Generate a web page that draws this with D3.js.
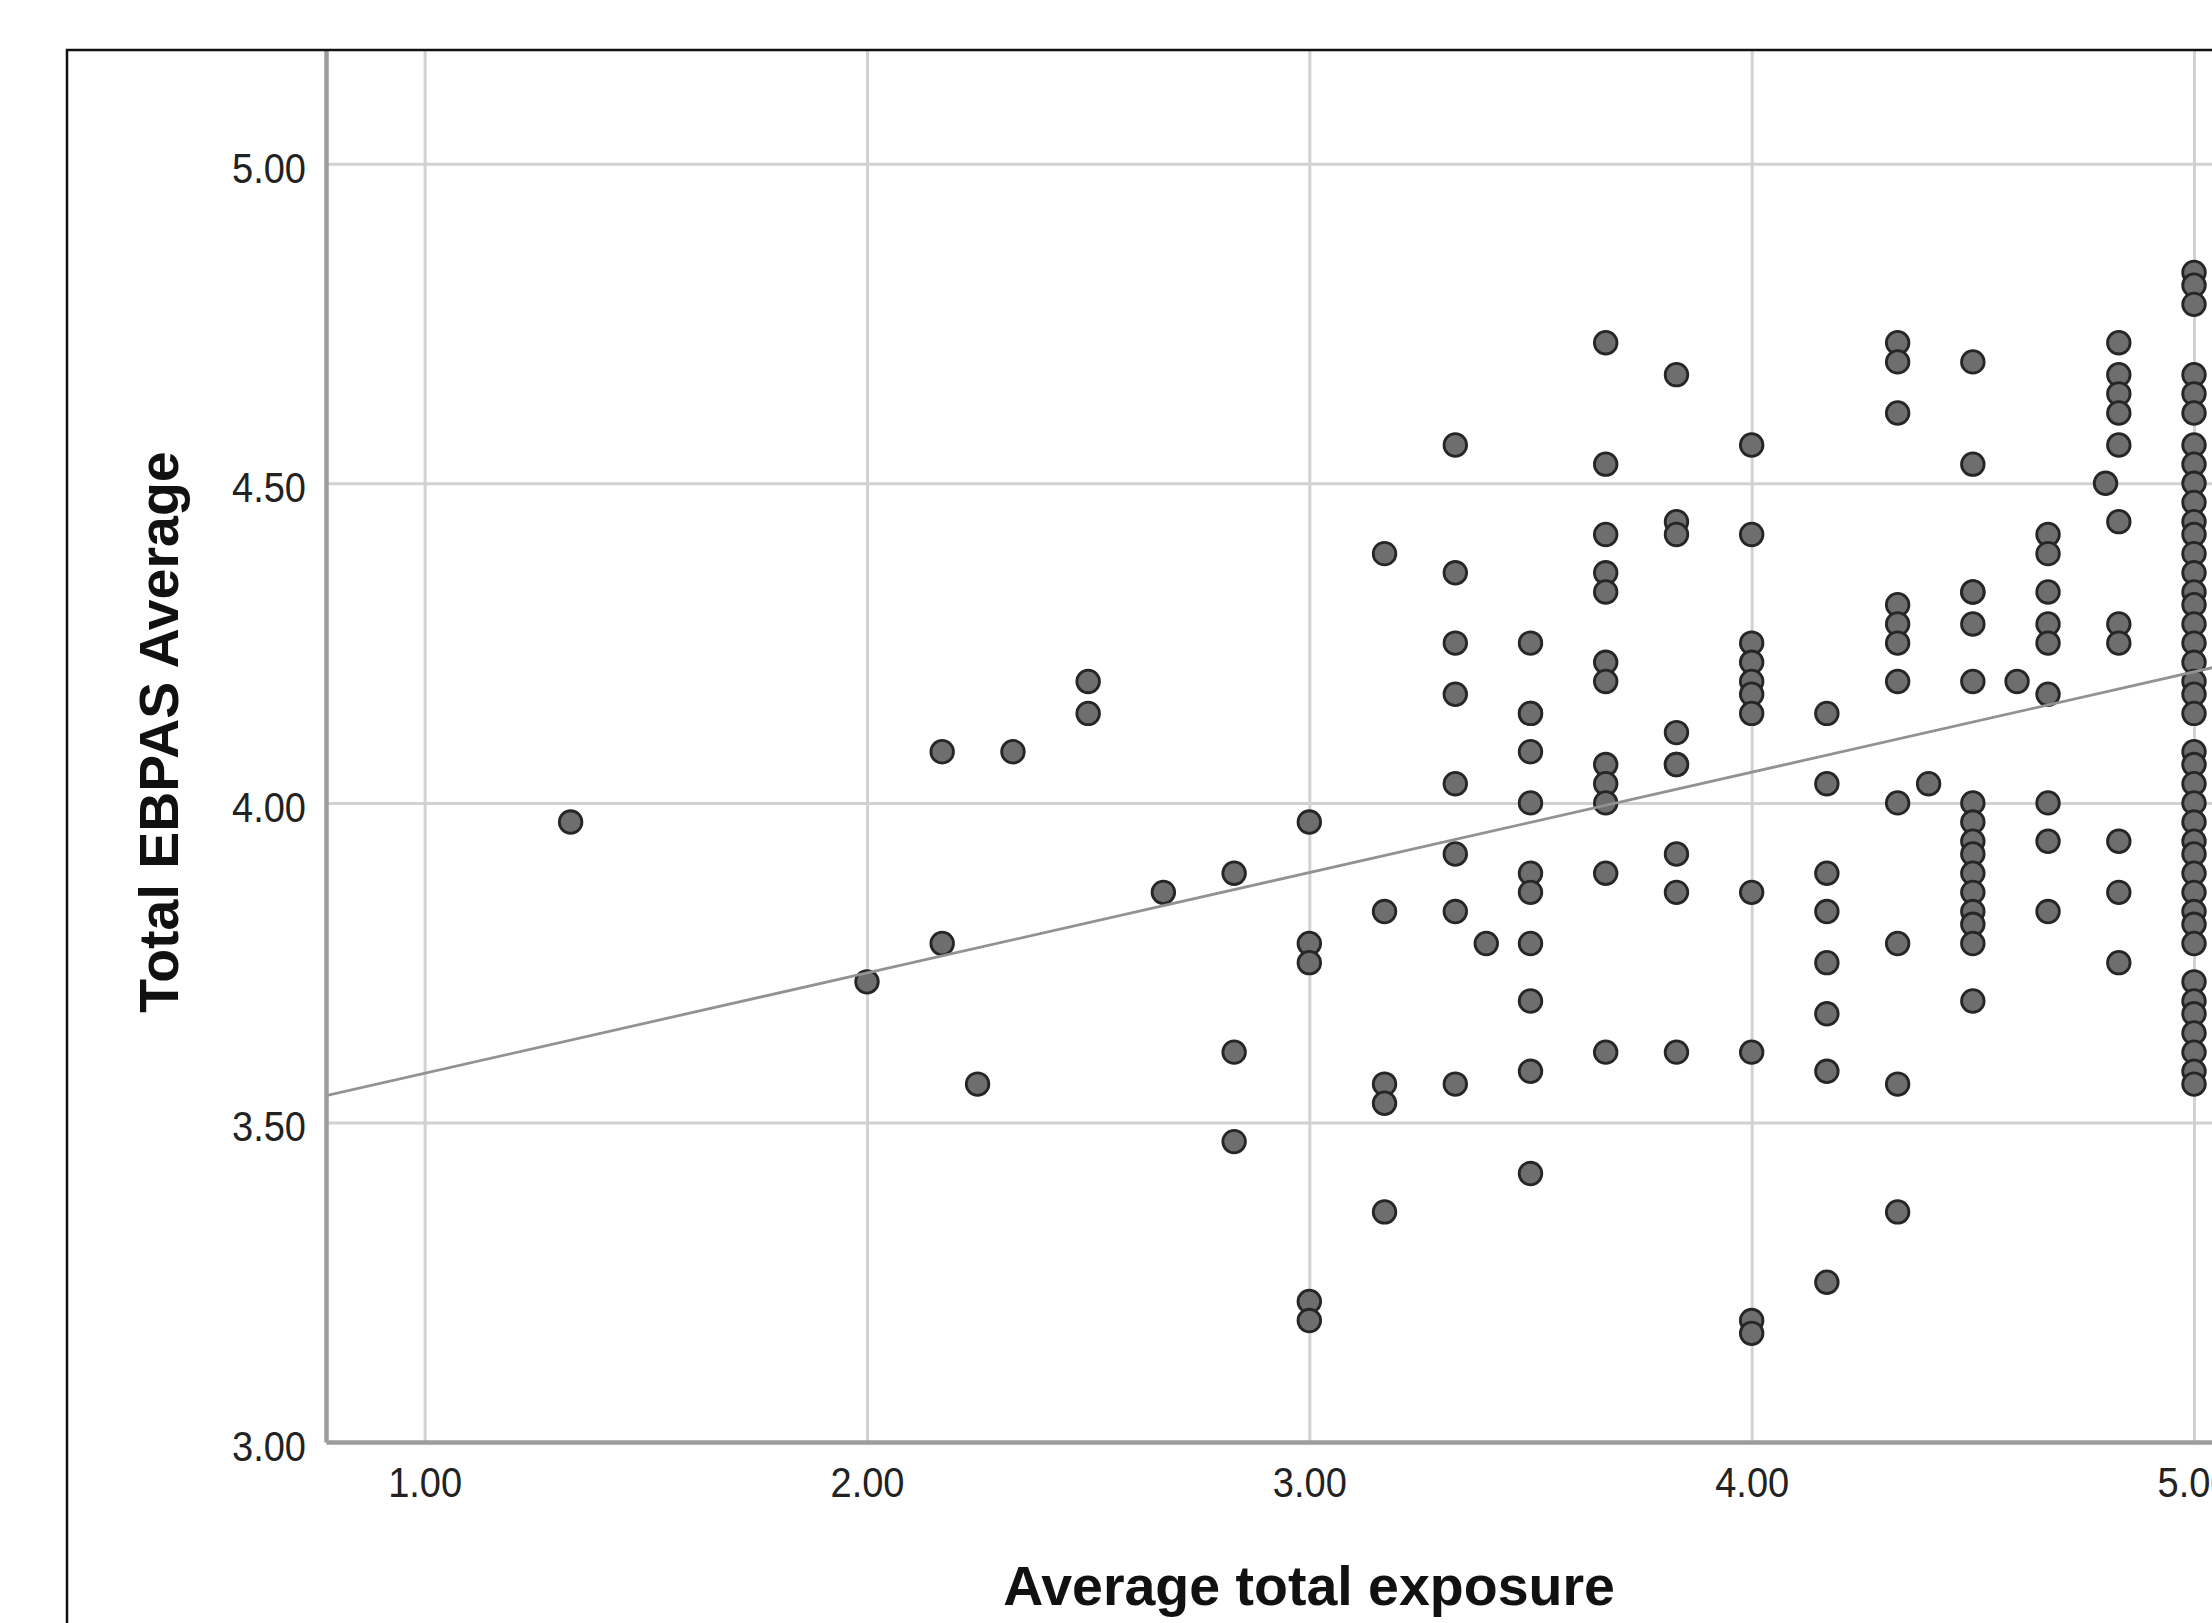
<!DOCTYPE html>
<html>
<head>
<meta charset="utf-8">
<script src="https://cdn.jsdelivr.net/npm/d3@7"></script>
<style>
  body { margin: 0; background: #fff; }
  svg { display: block; }
</style>
</head>
<body>
<div id="chart"></div>
<script>
// exposure levels (x) and the EBPAS averages seen at each level (y)
const exposureLevels = [1.33, 2.00, 2.17, 2.25, 2.33, 2.50, 2.67, 2.83, 3.00, 3.17, 3.33, 3.40, 3.50,
    3.67, 3.83, 4.00, 4.17, 4.33, 4.40, 4.50, 4.60, 4.67, 4.80, 4.83, 5.00];

const ebpasByLevel = [
    [3.97],
    [3.72],
    [4.08, 3.78],
    [3.56],
    [4.08],
    [4.19, 4.14],
    [3.86],
    [3.89, 3.61, 3.47],
    [3.97, 3.78, 3.75, 3.22, 3.19],
    [4.39, 3.83, 3.56, 3.53, 3.36],
    [4.56, 4.36, 4.25, 4.17, 4.03, 3.92, 3.83, 3.56],
    [3.78],
    [4.25, 4.14, 4.14, 4.08, 4.00, 3.89, 3.86, 3.78, 3.69, 3.58, 3.42],
    [4.72, 4.53, 4.42, 4.36, 4.33, 4.22, 4.19, 4.06, 4.03, 4.00, 3.89, 3.61],
    [4.67, 4.44, 4.42, 4.11, 4.06, 4.06, 3.92, 3.86, 3.61],
    [4.56, 4.42, 4.25, 4.22, 4.19, 4.17, 4.14, 3.86, 3.61, 3.19, 3.17],
    [4.14, 4.03, 3.89, 3.83, 3.75, 3.67, 3.58, 3.25],
    [4.72, 4.69, 4.61, 4.31, 4.28, 4.25, 4.19, 4.00, 3.78, 3.56, 3.36],
    [4.03],
    [4.69, 4.53, 4.33, 4.33, 4.28, 4.19, 4.00, 3.97, 3.94, 3.92, 3.89, 3.86, 3.83, 3.81, 3.78, 3.69],
    [4.19],
    [4.42, 4.39, 4.33, 4.28, 4.25, 4.17, 4.00, 3.94, 3.83],
    [4.50],
    [4.72, 4.67, 4.64, 4.61, 4.56, 4.44, 4.28, 4.25, 3.94, 3.86, 3.75],
    [4.83, 4.81, 4.78, 4.67, 4.64, 4.61,
     4.56, 4.53, 4.50, 4.47, 4.44, 4.42, 4.39, 4.36, 4.33, 4.31, 4.28, 4.25, 4.22, 4.19, 4.17, 4.14,
     4.08, 4.06, 4.03, 4.00, 3.97, 3.94, 3.92, 3.89, 3.86, 3.83, 3.81, 3.78,
     3.72, 3.69, 3.67, 3.64, 3.61, 3.58, 3.56]
];

// linear fit line drawn by the original
const fitIntercept = 3.42;
const fitSlope = 0.157;

const xTicks = [1, 2, 3, 4, 5];
const yTicks = [3.0, 3.5, 4.0, 4.5, 5.0];
const xTitle = 'Average total exposure';
const yTitle = 'Total EBPAS Average';

const W = 2212, H = 1623;
const plot = { left: 326, right: 2290, top: 50, bottom: 1442 };
const FONT = '"Liberation Sans", Arial, sans-serif';

const points = [];
exposureLevels.forEach((xv, i) => {
    ebpasByLevel[i].forEach(yv => points.push({ x: xv, y: yv }));
});

const svg = d3.select('#chart').append('svg')
    .attr('width', W)
    .attr('height', H);

svg.append('rect').attr('width', W).attr('height', H).attr('fill', '#fff');

const x = d3.scaleLinear().domain([0.777, 5.217]).range([plot.left, plot.right]);
const y = d3.scaleLinear().domain([3, 5.178]).range([plot.bottom, plot.top]);

svg.append('defs').append('clipPath').attr('id', 'plot-clip')
    .append('rect')
    .attr('x', plot.left)
    .attr('y', plot.top)
    .attr('width', plot.right - plot.left)
    .attr('height', plot.bottom - plot.top);

// grid lines
const gridX = svg.append('g')
    .attr('transform', `translate(0,${plot.bottom})`)
    .call(d3.axisBottom(x).tickValues(xTicks).tickSize(-(plot.bottom - plot.top)).tickFormat(''));
const gridY = svg.append('g')
    .attr('transform', `translate(${plot.left},0)`)
    .call(d3.axisLeft(y).tickValues(yTicks).tickSize(-(plot.right - plot.left)).tickFormat(''));

[gridX, gridY].forEach(g => {
    g.select('.domain').remove();
    g.selectAll('line').attr('stroke', '#d2d2d2').attr('stroke-width', 3);
});

const body = svg.append('g').attr('clip-path', 'url(#plot-clip)');

body.selectAll('circle')
    .data(points)
    .join('circle')
    .attr('cx', d => x(d.x))
    .attr('cy', d => y(d.y))
    .attr('r', 11.3)
    .attr('fill', '#6e6e6e')
    .attr('stroke', '#262626')
    .attr('stroke-width', 2.8);

const fitX = x.domain();
body.append('line')
    .attr('x1', x(fitX[0]))
    .attr('y1', y(fitIntercept + fitSlope * fitX[0]))
    .attr('x2', x(fitX[1]))
    .attr('y2', y(fitIntercept + fitSlope * fitX[1]))
    .attr('stroke', '#929292')
    .attr('stroke-width', 2.8);

// axes
const fmt = d3.format('.2f');

const axX = svg.append('g')
    .attr('transform', `translate(0,${plot.bottom})`)
    .call(d3.axisBottom(x).tickValues(xTicks).tickSize(0).tickFormat(fmt));

const axY = svg.append('g')
    .attr('transform', `translate(${plot.left},0)`)
    .call(d3.axisLeft(y).tickValues(yTicks).tickSize(0).tickPadding(20).tickFormat(fmt));

[axX, axY].forEach(g => {
    g.select('.domain').attr('stroke', '#9c9c9c').attr('stroke-width', 4.5);
    g.selectAll('text')
        .attr('fill', '#222')
        .style('font-family', FONT)
        .style('font-size', '42px')
        .attr('textLength', 74)
        .attr('lengthAdjust', 'spacingAndGlyphs');
});

axX.selectAll('text').attr('y', 55).attr('dy', 0);
axY.selectAll('text').attr('dy', '0.44em');

// outer frame, its right and bottom sides are cut off
svg.append('path')
    .attr('d', `M67,${H + 10} V50 H${W + 10}`)
    .attr('fill', 'none')
    .attr('stroke', '#111')
    .attr('stroke-width', 2.5);

svg.append('text')
    .attr('x', 1309)
    .attr('y', 1605)
    .attr('text-anchor', 'middle')
    .style('font-family', FONT)
    .style('font-size', '55.5px')
    .style('font-weight', 'bold')
    .attr('fill', '#111')
    .text(xTitle);

svg.append('text')
    .attr('transform', 'translate(178,732) rotate(-90)')
    .attr('text-anchor', 'middle')
    .style('font-family', FONT)
    .style('font-size', '55.5px')
    .style('font-weight', 'bold')
    .attr('fill', '#111')
    .text(yTitle);
</script>
</body>
</html>
